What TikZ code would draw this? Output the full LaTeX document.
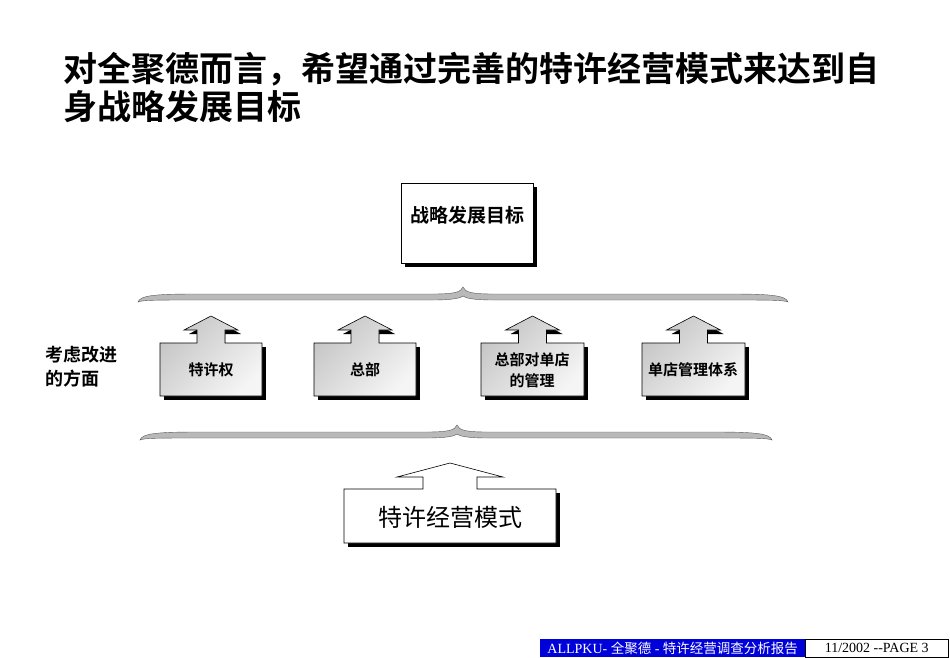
\documentclass[tikz,border=0pt]{standalone}
\usepackage{fontspec}
\newfontfamily\cjk{Noto Sans CJK SC}
\newfontfamily\cjkb{Noto Sans CJK SC Bold}
\setmainfont{Liberation Serif}
\begin{document}
\begin{tikzpicture}[x=1pt,y=-1pt]
\useasboundingbox (0,0) rectangle (950,658);
\tikzset{
  shad/.style={fill=black},
  gbox/.style={draw=black,line width=0.6pt,left color=gray!45,right color=gray!8,shading angle=45},
  wbox/.style={draw=black,line width=0.6pt,fill=white},
  brace/.style={fill=gray!55,draw=gray!70!black,line width=0.4pt},
  lbl/.style={font=\cjkb\fontsize{15}{18}\selectfont,align=center,inner sep=0pt}
}
% title
\node[anchor=north west,align=left,font=\cjkb\fontsize{34}{38}\selectfont,inner sep=0pt] (title) at (63,52) {对全聚德而言，希望通过完善的特许经营模式来达到自\\身战略发展目标};
% top box
\fill[shad] (405,187) rectangle (537,267);
\node[wbox,minimum width=132pt,minimum height=80pt,anchor=north west,inner sep=0pt] (goal) at (401,183) {};
\node[lbl,font=\cjkb\fontsize{19}{22}\selectfont] (goalt) at (467,215) {战略发展目标};
% braces
\newcommand{\mybrace}[5]{% x1 x2 xm ytop ybot
\path[brace] (#1,#5) .. controls (#1+2,#4+1) and (#1+20,#4) .. (#1+60,#4) -- (#3-30,#4) .. controls (#3-8,#4) and (#3-2,#4-2) .. (#3,#4-7) .. controls (#3+2,#4-2) and (#3+8,#4) .. (#3+30,#4) -- (#2-60,#4) .. controls (#2-20,#4) and (#2-2,#4+1) .. (#2,#5) .. controls (#2-4,#4+6) and (#2-20,#4+6) .. (#2-60,#4+6) -- (#3+30,#4+6) .. controls (#3+10,#4+6) and (#3+2,#4+4) .. (#3,#4+2) .. controls (#3-2,#4+4) and (#3-10,#4+6) .. (#3-30,#4+6) -- (#1+60,#4+6) .. controls (#1+20,#4+6) and (#1+4,#4+6) .. (#1,#5) -- cycle;}
\mybrace{138}{788}{463}{294}{302}
\mybrace{140}{772}{457}{432}{440}
% arrow boxes
\newcommand{\arrbox}[4]{% x1 x2 ytop ybot
\pgfmathsetmacro{\cx}{(#1+#2)/2}
\fill[shad] (#1+4,#3+4) rectangle (#2+4,#4+4);
\fill[shad] (\cx-10,#3+4) -- (\cx-10,#3-9) -- (\cx-22,#3-9) -- (\cx+4,#3-23) -- (\cx+30,#3-9) -- (\cx+14,#3-9) -- (\cx+14,#3+4) -- cycle;
\path[gbox] (#1,#3) -- (\cx-14,#3) -- (\cx-14,#3-13) -- (\cx-27,#3-13) -- (\cx,#3-27) -- (\cx+27,#3-13) -- (\cx+14,#3-13) -- (\cx+14,#3) -- (#2,#3) -- (#2,#4) -- (#1,#4) -- cycle;
}
\arrbox{160}{262}{343}{396}
\arrbox{314}{416}{343}{396}
\arrbox{481}{584}{343}{396}
\arrbox{642}{745}{343}{396}
\node[lbl] (b1) at (211,370) {特许权};
\node[lbl] (b2) at (365,370) {总部};
\node[lbl,font=\cjkb\fontsize{15}{21}\selectfont] (b3) at (532,370) {总部对单店\\的管理};
\node[lbl] (b4) at (693,370) {单店管理体系};
\node[lbl,align=left,anchor=west,font=\cjkb\fontsize{18}{24}\selectfont] (side) at (45,367) {考虑改进\\的方面};
% bottom box
\fill[shad] (348,493) rectangle (560,547);
\path[wbox] (344,489) -- (423,489) -- (423,477) -- (397,477) -- (450,463) -- (503,477) -- (477,477) -- (477,489) -- (556,489) -- (556,543) -- (344,543) -- cycle;
\node[lbl,font=\cjk\fontsize{24}{28}\selectfont] (model) at (450,517) {特许经营模式};
% footer
\node[fill=blue!85!black,text=white,minimum width=265pt,minimum height=18pt,anchor=north west,inner sep=0pt,font=\fontsize{14}{15}\selectfont] (f1) at (540,639) {ALLPKU- {\cjk\fontsize{13.5}{15}\selectfont 全聚德} - {\cjk\fontsize{13.5}{15}\selectfont 特许经营调查分析报告}};
\node[draw=black,line width=0.5pt,minimum width=143pt,minimum height=18pt,anchor=north west,inner sep=0pt,font=\fontsize{14}{15}\selectfont] (f2) at (805,639) {11/2002 {-}{-}PAGE 3};
\end{tikzpicture}
\end{document}
